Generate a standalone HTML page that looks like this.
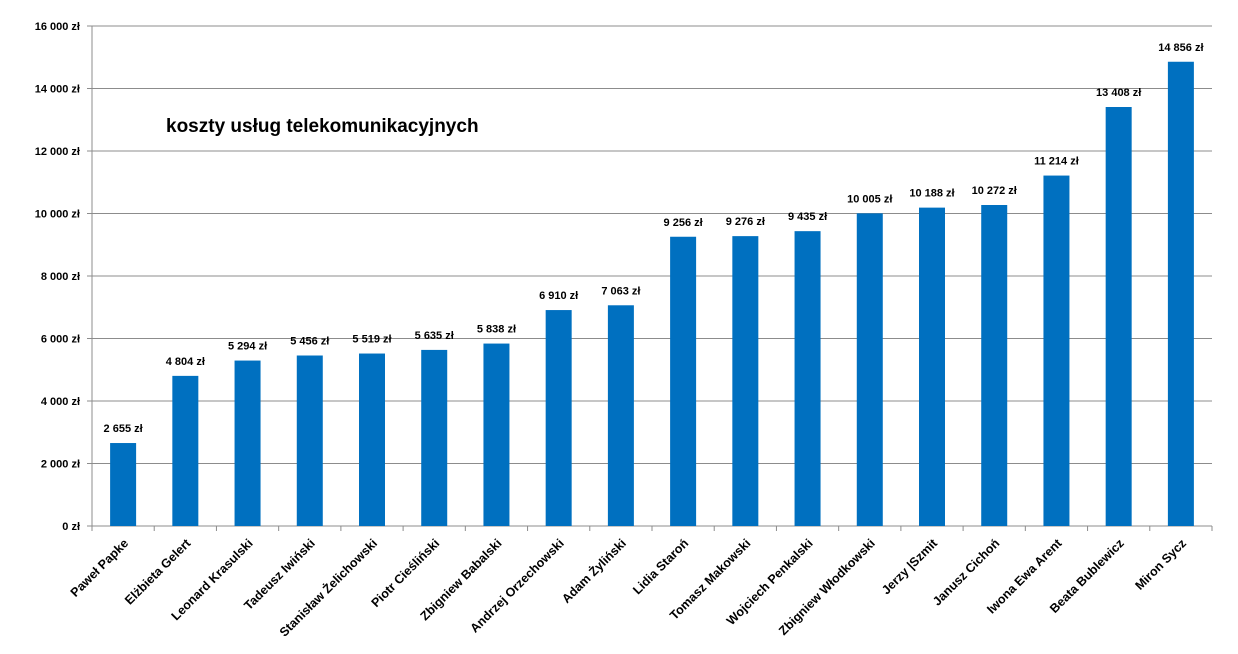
<!DOCTYPE html>
<html><head><meta charset="utf-8"><style>
body{margin:0;background:#fff}
svg text{font-family:"Liberation Sans",sans-serif;font-weight:bold;fill:#000}
</style></head><body>
<svg width="1238" height="649">
<text x="166" y="132" font-size="19">koszty usług telekomunikacyjnych</text>
<g id="grid"></g><g id="bars"></g><g id="labels"></g>
</svg>
<script>
const categories=["Paweł Papke","Elżbieta Gelert","Leonard Krasulski","Tadeusz Iwiński","Stanisław Żelichowski","Piotr Cieśliński","Zbigniew Babalski","Andrzej Orzechowski","Adam Żyliński","Lidia Staroń","Tomasz Makowski","Wojciech Penkalski","Zbigniew Włodkowski","Jerzy |Szmit","Janusz Cichoń","Iwona Ewa Arent","Beata Bublewicz","Miron Sycz"];
const values=[2655,4804,5294,5456,5519,5635,5838,6910,7063,9256,9276,9435,10005,10188,10272,11214,13408,14856];
const yTicks=[0,2000,4000,6000,8000,10000,12000,14000,16000];
const NS="http://www.w3.org/2000/svg";
const x0=92,x1=1212,yTop=26,yBot=526,yMax=16000;
const step=(x1-x0)/categories.length;
const y=v=>yBot-(v/yMax)*(yBot-yTop);
const xc=i=>x0+step*(i+0.5);
const fmt=v=>String(v).replace(/\B(?=(\d{3})+(?!\d))/g," ")+" zł";
function mk(tag,attrs,parent){const e=document.createElementNS(NS,tag);for(const k in attrs)e.setAttribute(k,attrs[k]);parent.appendChild(e);return e;}
const grid=document.getElementById('grid'),bars=document.getElementById('bars'),labels=document.getElementById('labels');
yTicks.forEach(t=>{
  const l=mk('line',{x1:x0-5,x2:x1,y1:y(t),y2:y(t),stroke:'#8c8c8c','stroke-width':1},grid);
  
  
  const tx=mk('text',{x:x0-12,y:y(t)+4,'text-anchor':'end','font-size':11},grid);
  tx.textContent=fmt(t);
  
  
});
const ax=mk('line',{x1:x0,x2:x0,y1:yTop,y2:yBot,stroke:'#8c8c8c'},grid);


for(let i=0;i<=categories.length;i++){
  const tk=mk('line',{x1:x0+step*i,x2:x0+step*i,y1:yBot,y2:yBot+5,stroke:'#8c8c8c'},grid);
  
  
}
categories.forEach((c,i)=>{
  const v=values[i];
  const r=mk('rect',{x:xc(i)-13,y:y(v),width:26,height:yBot-y(v),fill:'#0070c0'},bars);
  
  
  const t=mk('text',{x:xc(i),y:y(v)-11,'text-anchor':'middle','font-size':11},labels);
  t.textContent=fmt(v);
  
  
  const cx=xc(i)+6,cy=544;
  const ct=mk('text',{x:cx,y:cy,'text-anchor':'end','font-size':12.5,transform:`rotate(-45 ${cx} ${cy})`},labels);
  ct.textContent=c;
  
  
});
</script>
</body></html>
